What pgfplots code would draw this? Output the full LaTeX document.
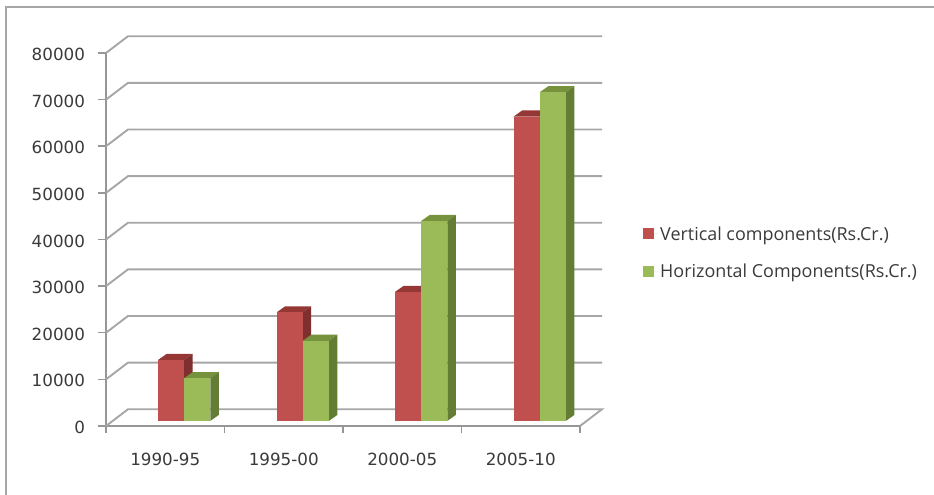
\documentclass[border=0pt]{standalone}
\usepackage{pgfplots}
\pgfplotsset{compat=1.18}
\usepackage{fontspec}
\setmainfont{DejaVu Sans}
\newfontfamily\legendfont{Open Sans}

\definecolor{gridgray}{HTML}{A6A6A6}
\definecolor{axisgray}{HTML}{969696}
\definecolor{labelgray}{HTML}{3A3A3A}
\definecolor{redfront}{HTML}{C0504D}
\definecolor{redtop}{HTML}{953735}
\definecolor{redside}{HTML}{7F2F2D}
\definecolor{greenfront}{HTML}{9BBB59}
\definecolor{greentop}{HTML}{76923C}
\definecolor{greenside}{HTML}{647D35}

% One bar as a prism: left edge, value, bar colours.
% The front face stands slightly behind the axis plane.
\newcommand{\prism}[5]{%
  \begingroup
  \pgfset{fpu,fpu/output format=fixed}%
  \pgfmathparse{#1+0.22}\xdef\xb{\pgfmathresult}%
  \pgfmathparse{#1+0.072}\xdef\xc{\pgfmathresult}%
  \pgfmathparse{#1+0.292}\xdef\xd{\pgfmathresult}%
  \pgfmathparse{#2+1072}\xdef\yt{\pgfmathresult}%
  \pgfmathparse{#2+2372}\xdef\yu{\pgfmathresult}%
  \endgroup
  \addplot[fill=#4,draw=none,forget plot] coordinates {(#1,\yt) (\xb,\yt) (\xd,\yu) (\xc,\yu)} --cycle;
  \addplot[fill=#5,draw=none,forget plot] coordinates {(\xb,1072) (\xd,2372) (\xd,\yu) (\xb,\yt)} --cycle;
  \addplot[fill=#3,draw=none,forget plot] coordinates {(#1,1072) (\xb,1072) (\xb,\yt) (#1,\yt)} --cycle;
}

\begin{document}
\begin{tikzpicture}[x=1bp,y=1bp]
  \path[use as bounding box] (0,0) rectangle (934,495);
  \draw[color=gridgray,line width=2bp] (5.5,0) -- (5.5,487.5) -- (934,487.5);
  \begin{axis}[
    at={(106bp,69bp)}, anchor=south west,
    scale only axis, width=474bp, height=373bp,
    xmin=0, xmax=4, ymin=0, ymax=80000,
    clip=false,
    axis x line=bottom, axis y line=left,
    axis line style={color=axisgray,line width=2bp,-},
    xtick={0,1,2,3,4},
    x tick label as interval,
    xticklabels={1990-95,1995-00,2000-05,2005-10},
    ytick={0,10000,...,80000},
    scaled y ticks=false,
    /pgf/number format/fixed,
    /pgf/number format/1000 sep={},
    /pgf/number format/assume math mode=true,
    tick align=outside,
    major tick length=7.5bp,
    tick style={color=axisgray,line width=1.5bp},
    xticklabel style={font=\fontsize{16.8}{18}\selectfont,text=labelgray,yshift=-16bp},
    yticklabel style={font=\fontsize{16.8}{18}\selectfont,text=labelgray,xshift=-10bp,yshift=-1.5bp},
    legend style={at={(1.133,0.465)},anchor=west,draw=none,fill=none,
      font=\legendfont\fontsize{18}{20}\selectfont,text=labelgray,
      row sep=18bp,inner sep=0pt},
    legend cell align=left,
    legend image code/.code={\fill[#1] (0,-5.5bp) rectangle (11bp,5.5bp); \path (0,0) -- (15bp,0);},
  ]
    % Back wall gridlines with their slanted ends, and the floor
    \addplot[color=gridgray,line width=1.9bp,forget plot] coordinates {(0,80000) (0.186,83600) (4.186,83600)};
    \addplot[color=gridgray,line width=1.9bp,forget plot] coordinates {(0,70000) (0.186,73600) (4.186,73600)};
    \addplot[color=gridgray,line width=1.9bp,forget plot] coordinates {(0,60000) (0.186,63600) (4.186,63600)};
    \addplot[color=gridgray,line width=1.9bp,forget plot] coordinates {(0,50000) (0.186,53600) (4.186,53600)};
    \addplot[color=gridgray,line width=1.9bp,forget plot] coordinates {(0,40000) (0.186,43600) (4.186,43600)};
    \addplot[color=gridgray,line width=1.9bp,forget plot] coordinates {(0,30000) (0.186,33600) (4.186,33600)};
    \addplot[color=gridgray,line width=1.9bp,forget plot] coordinates {(0,20000) (0.186,23600) (4.186,23600)};
    \addplot[color=gridgray,line width=1.9bp,forget plot] coordinates {(0,10000) (0.186,13600) (4.186,13600)};
    \addplot[color=gridgray,line width=1.9bp,forget plot] coordinates {(0,0) (0.186,3600) (4.186,3600) (4,0)};

    % Bars, one pair per period
    \prism{0.44}{13100}{redfront}{redtop}{redside}
    \prism{0.66}{9200}{greenfront}{greentop}{greenside}
    \prism{1.44}{23300}{redfront}{redtop}{redside}
    \prism{1.66}{17200}{greenfront}{greentop}{greenside}
    \prism{2.44}{27700}{redfront}{redtop}{redside}
    \prism{2.66}{42900}{greenfront}{greentop}{greenside}
    \prism{3.44}{65300}{redfront}{redtop}{redside}
    \prism{3.66}{70500}{greenfront}{greentop}{greenside}

    \addlegendimage{fill=redfront,draw=none}
    \addlegendentry{Vertical components(Rs.Cr.)}
    \addlegendimage{fill=greenfront,draw=none}
    \addlegendentry{Horizontal Components(Rs.Cr.)}
  \end{axis}
\end{tikzpicture}
\end{document}
